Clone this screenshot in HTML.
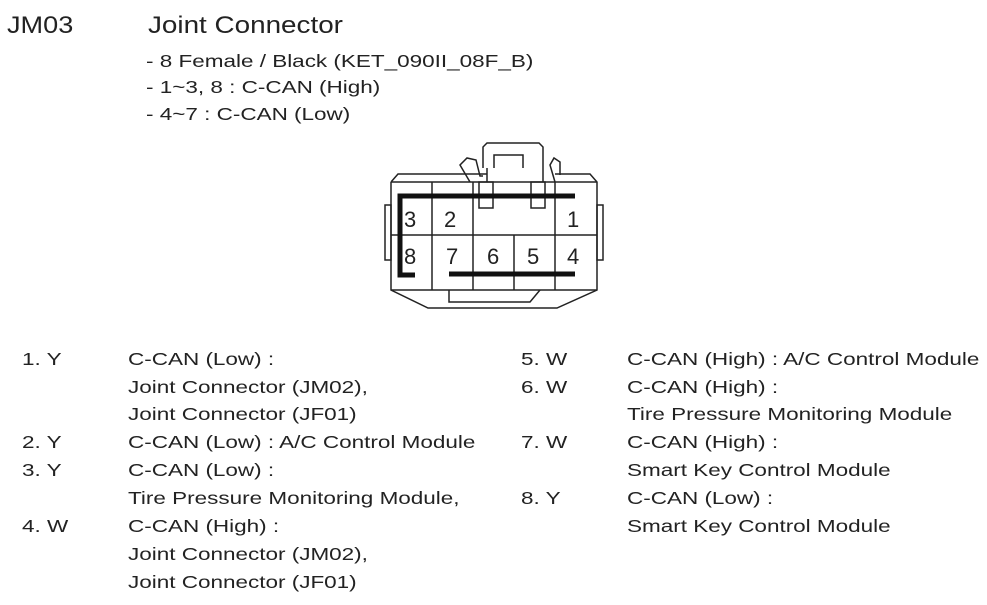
<!DOCTYPE html>
<html><head><meta charset="utf-8"><style>
html,body{margin:0;padding:0;background:#fff;}
svg{display:block;}
text{font-family:"Liberation Sans",Arial,sans-serif;fill:#222;}
</style></head><body>
<svg width="987" height="605" viewBox="0 0 987 605" xmlns="http://www.w3.org/2000/svg">
<g transform="translate(7,0) scale(1.13,1)"><text x="0" y="33" font-size="24">JM03</text></g>
<g transform="translate(148,0) scale(1.16,1)"><text x="0" y="33" font-size="24">Joint Connector</text></g>
<g font-size="18" transform="translate(146,0) scale(1.25,1)">
<text x="0" y="67">- 8 Female / Black (KET_090II_08F_B)</text>
<text x="0" y="93">- 1~3, 8 : C-CAN (High)</text>
<text x="0" y="120">- 4~7 : C-CAN (Low)</text>
</g>
<!-- connector -->
<g fill="none" stroke="#222" stroke-width="1.5">
<path d="M391 182 L398 174 L487 174"/>
<path d="M555 174 L590 174 L597 182 L597 290 L557 308 L428 308 L391 290 L391 182"/>
<rect x="385" y="205" width="6" height="55"/>
<rect x="597" y="205" width="6" height="55"/>
<path d="M483 168 L483 147 L487 143 L539 143 L543 147 L543 168"/>
<path d="M494 168 L494 155 L523 155 L523 168"/>
<path d="M470 182 L460 165 L467 158 L476 160 L480 176 L483 176"/>
<path d="M555 182 L550 165 L554 158 L560 162 L560 175"/>
<path d="M487 168 L487 182 M543 168 L543 182"/>
<rect x="479" y="182" width="14" height="26"/>
<rect x="531" y="182" width="14" height="26"/>
<line x1="391" y1="182" x2="597" y2="182"/>
<line x1="432" y1="182" x2="432" y2="290"/>
<line x1="473" y1="182" x2="473" y2="235"/>
<line x1="555" y1="182" x2="555" y2="290"/>
<line x1="391" y1="235" x2="597" y2="235"/>
<line x1="473" y1="235" x2="473" y2="290"/>
<line x1="514" y1="235" x2="514" y2="290"/>
<line x1="391" y1="290" x2="597" y2="290"/>
<path d="M449 290 L449 302 L530 302 L540 290"/>
</g>
<g stroke="#111" stroke-width="5" fill="none">
<path d="M575 196 L400 196 L400 275 L415 275"/>
<line x1="449" y1="274" x2="575" y2="274"/>
</g>
<g font-size="22">
<text x="404" y="227">3</text>
<text x="444" y="227">2</text>
<text x="567" y="227">1</text>
<text x="404" y="264">8</text>
<text x="446" y="264">7</text>
<text x="487" y="264">6</text>
<text x="527" y="264">5</text>
<text x="567" y="264">4</text>
</g>
<g font-size="18" transform="translate(22,0) scale(1.25,1)">
<text x="0" y="365">1. Y</text><text x="0" y="448">2. Y</text><text x="0" y="476">3. Y</text><text x="0" y="532">4. W</text>
</g>
<g font-size="18" transform="translate(128,0) scale(1.25,1)">
<text x="0" y="365">C-CAN (Low) :</text>
<text x="0" y="393">Joint Connector (JM02),</text>
<text x="0" y="420">Joint Connector (JF01)</text>
<text x="0" y="448">C-CAN (Low) : A/C Control Module</text>
<text x="0" y="476">C-CAN (Low) :</text>
<text x="0" y="504">Tire Pressure Monitoring Module,</text>
<text x="0" y="532">C-CAN (High) :</text>
<text x="0" y="560">Joint Connector (JM02),</text>
<text x="0" y="588">Joint Connector (JF01)</text>
</g>
<g font-size="18" transform="translate(521,0) scale(1.25,1)">
<text x="0" y="365">5. W</text><text x="0" y="393">6. W</text><text x="0" y="448">7. W</text><text x="0" y="504">8. Y</text>
</g>
<g font-size="18" transform="translate(627,0) scale(1.25,1)">
<text x="0" y="365">C-CAN (High) : A/C Control Module</text>
<text x="0" y="393">C-CAN (High) :</text>
<text x="0" y="420">Tire Pressure Monitoring Module</text>
<text x="0" y="448">C-CAN (High) :</text>
<text x="0" y="476">Smart Key Control Module</text>
<text x="0" y="504">C-CAN (Low) :</text>
<text x="0" y="532">Smart Key Control Module</text>
</g>
</svg>
</body></html>
